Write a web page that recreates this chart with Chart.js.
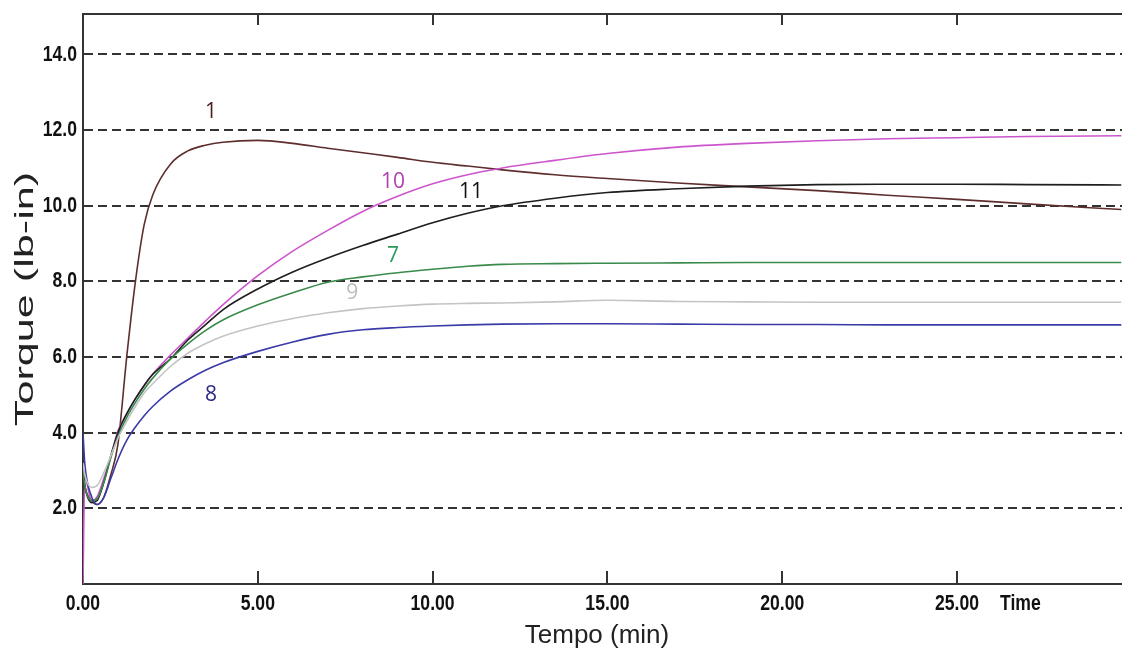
<!DOCTYPE html>
<html lang="pt">

<head>
    <meta charset="UTF-8">
    <title>Torque x Tempo</title>
    <script src="https://cdn.jsdelivr.net/npm/chart.js"></script>
    <style>
        body {
            margin: 0;
            padding: 0;
            background-color: #ffffff;
        }

        .chart-container {
            position: relative;
            width: 1122px;
            height: 650px;
        }
    </style>
</head>

<body>
    <div class="chart-container">
        <canvas id="torqueChart"></canvas>
    </div>

    <script>
        // tempo (min) comum a todas as curvas
        var tempo = [0, 0.05, 0.25, 0.4, 0.6, 0.8, 1.0, 1.25, 1.5, 1.75, 2.0, 2.5, 3.0, 3.5, 4.0, 5.0, 6.0, 7.0, 8.0, 9.0, 10.0, 11.0, 12.0, 13.5, 15.0, 17.0, 19.0, 21.0, 23.0, 25.0, 27.0, 29.7];

        // torque (lb-in) de cada amostra
        var curva1 = [3.0, 2.6, 2.2, 2.1, 2.3, 2.9, 3.7, 6.0, 8.0, 9.5, 10.3, 11.1, 11.45, 11.6, 11.68, 11.73, 11.65, 11.52, 11.4, 11.28, 11.15, 11.05, 10.95, 10.82, 10.72, 10.6, 10.5, 10.4, 10.28, 10.17, 10.05, 9.9];
        var curva10 = [0, 2.8, 2.2, 2.3, 2.8, 3.4, 4.05, 4.5, 4.9, 5.25, 5.55, 6.05, 6.5, 6.95, 7.38, 8.15, 8.8, 9.35, 9.85, 10.25, 10.58, 10.82, 11.0, 11.2, 11.38, 11.55, 11.65, 11.72, 11.77, 11.8, 11.83, 11.85];
        var curva11 = [3.0, 2.6, 2.15, 2.2, 2.7, 3.4, 4.0, 4.5, 4.9, 5.25, 5.55, 5.95, 6.45, 6.85, 7.25, 7.8, 8.25, 8.62, 8.95, 9.25, 9.55, 9.8, 10.0, 10.2, 10.35, 10.45, 10.52, 10.56, 10.57, 10.57, 10.56, 10.55];
        var curva7 = [3.0, 2.6, 2.2, 2.25, 2.7, 3.35, 3.9, 4.4, 4.8, 5.15, 5.45, 5.95, 6.35, 6.7, 6.98, 7.38, 7.7, 7.98, 8.12, 8.23, 8.32, 8.4, 8.45, 8.47, 8.48, 8.49, 8.5, 8.5, 8.5, 8.5, 8.5, 8.5];
        var curva9 = [3.2, 2.9, 2.55, 2.6, 2.95, 3.4, 3.85, 4.3, 4.7, 5.05, 5.3, 5.75, 6.1, 6.35, 6.55, 6.82, 7.02, 7.17, 7.28, 7.35, 7.4, 7.42, 7.43, 7.46, 7.5, 7.47, 7.46, 7.45, 7.45, 7.45, 7.45, 7.45];
        var curva8 = [4.0, 3.2, 2.3, 2.1, 2.3, 2.8, 3.3, 3.8, 4.15, 4.45, 4.7, 5.1, 5.4, 5.65, 5.85, 6.15, 6.4, 6.6, 6.72, 6.78, 6.82, 6.85, 6.87, 6.88, 6.88, 6.87, 6.86, 6.86, 6.85, 6.85, 6.85, 6.85];

        // ticks dos eixos
        var ticksX = [0, 5, 10, 15, 20, 25];
        var ticksY = [2, 4, 6, 8, 10, 12, 14];

        // rotulos das curvas (posicao em unidades dos eixos)
        var rotulos = ['1', '10', '11', '7', '9', '8'];
        var rotuloX = [3.66, 8.87, 11.1, 8.87, 7.7, 3.66];
        var rotuloY = [12.47, 10.62, 10.36, 8.67, 7.69, 4.99];
        var rotuloCor = ['#4a2020', '#b040b0', '#111111', '#2a9a5a', '#bbbbbb', '#2a2a88'];

        var fonteTicks = 'bold 22px "Liberation Sans", Arial, sans-serif';

        function pontos(valores) {
            return valores.map(function (v, i) {
                return { x: tempo[i], y: v };
            });
        }

        function serie(nome, valores, cor) {
            return {
                label: nome,
                data: pontos(valores),
                borderColor: cor,
                backgroundColor: cor,
                borderWidth: 1.6,
                pointRadius: 0,
                fill: false,
                cubicInterpolationMode: 'monotone'
            };
        }

        // texto estreito (fonte condensada simulada)
        function textoEstreito(ctx, txt, x, y, align) {
            ctx.save();
            ctx.translate(x, y);
            ctx.scale(0.8, 1);
            ctx.textAlign = align;
            ctx.fillText(txt, 0, 0);
            ctx.restore();
        }

        var extras = {
            id: 'extras',
            afterDraw: function (chart) {
                var ctx = chart.ctx;
                var area = chart.chartArea;
                var sx = chart.scales.x;
                var sy = chart.scales.y;
                ctx.save();

                // borda superior e marcas dos ticks
                ctx.strokeStyle = '#333';
                ctx.lineWidth = 2;
                ctx.beginPath();
                ctx.moveTo(area.left, area.top);
                ctx.lineTo(area.right, area.top);
                ticksX.forEach(function (t) {
                    if (t === 0) return;
                    var px = Math.round(sx.getPixelForValue(t));
                    ctx.moveTo(px, area.top);
                    ctx.lineTo(px, area.top + 11);
                    ctx.moveTo(px, area.bottom);
                    ctx.lineTo(px, area.bottom - 13);
                });
                ctx.stroke();

                // rotulos dos ticks
                ctx.fillStyle = '#111';
                ctx.font = fonteTicks;
                ctx.textBaseline = 'middle';
                ticksY.forEach(function (v) {
                    textoEstreito(ctx, v.toFixed(1), area.left - 6, sy.getPixelForValue(v), 'right');
                });
                ticksX.forEach(function (v) {
                    textoEstreito(ctx, v.toFixed(2), sx.getPixelForValue(v), area.bottom + 20, 'center');
                });
                textoEstreito(ctx, 'Time', sx.getPixelForValue(25) + 43, area.bottom + 20, 'left');

                // titulos dos eixos
                ctx.fillStyle = '#222';
                ctx.font = '26px "Liberation Sans", Arial, sans-serif';
                ctx.textAlign = 'center';
                ctx.fillText('Tempo (min)', 597, 636);

                ctx.save();
                ctx.translate(26, (area.top + area.bottom) / 2);
                ctx.rotate(-Math.PI / 2);
                ctx.scale(1.66, 1);
                ctx.font = '26px "Liberation Sans", Arial, sans-serif';
                ctx.fillText('Torque (lb-in)', 0, 0);
                ctx.restore();

                // rotulos das curvas
                ctx.font = '21px "Open Sans", "Noto Sans", sans-serif';
                ctx.textAlign = 'center';
                rotulos.forEach(function (r, i) {
                    ctx.fillStyle = rotuloCor[i];
                    ctx.fillText(r, sx.getPixelForValue(rotuloX[i]), sy.getPixelForValue(rotuloY[i]));
                });

                ctx.restore();
            }
        };

        var ctx = document.getElementById('torqueChart').getContext('2d');
        var torqueChart = new Chart(ctx, {
            type: 'line',
            data: {
                datasets: [
                    serie('9', curva9, '#c4c4c4'),
                    serie('8', curva8, '#3a3aa8'),
                    serie('7', curva7, '#3a8a4a'),
                    serie('11', curva11, '#1e1e1e'),
                    serie('10', curva10, '#cc55cc'),
                    serie('1', curva1, '#5e2e2e')
                ]
            },
            options: {
                responsive: true,
                maintainAspectRatio: false,
                devicePixelRatio: 1,
                animation: false,
                layout: {
                    padding: { top: 14, right: 0, left: 0, bottom: 0 }
                },
                plugins: {
                    legend: { display: false },
                    tooltip: { enabled: false }
                },
                scales: {
                    x: {
                        type: 'linear',
                        min: 0,
                        max: 29.72,
                        afterBuildTicks: function (scale) {
                            scale.ticks = ticksX.map(function (v) { return { value: v }; });
                        },
                        afterFit: function (scale) {
                            scale.height = 66;
                        },
                        ticks: { display: false },
                        grid: { display: false, drawTicks: false },
                        border: { display: true, color: '#333', width: 2 }
                    },
                    y: {
                        min: 0,
                        max: 15.07,
                        afterBuildTicks: function (scale) {
                            scale.ticks = ticksY.map(function (v) { return { value: v }; });
                        },
                        afterFit: function (scale) {
                            scale.width = 83;
                        },
                        ticks: { display: false },
                        grid: {
                            color: '#333',
                            lineWidth: 2,
                            drawTicks: false
                        },
                        border: { display: true, color: '#333', width: 2, dash: [9, 5] }
                    }
                }
            },
            plugins: [extras]
        });
    </script>
</body>

</html>
